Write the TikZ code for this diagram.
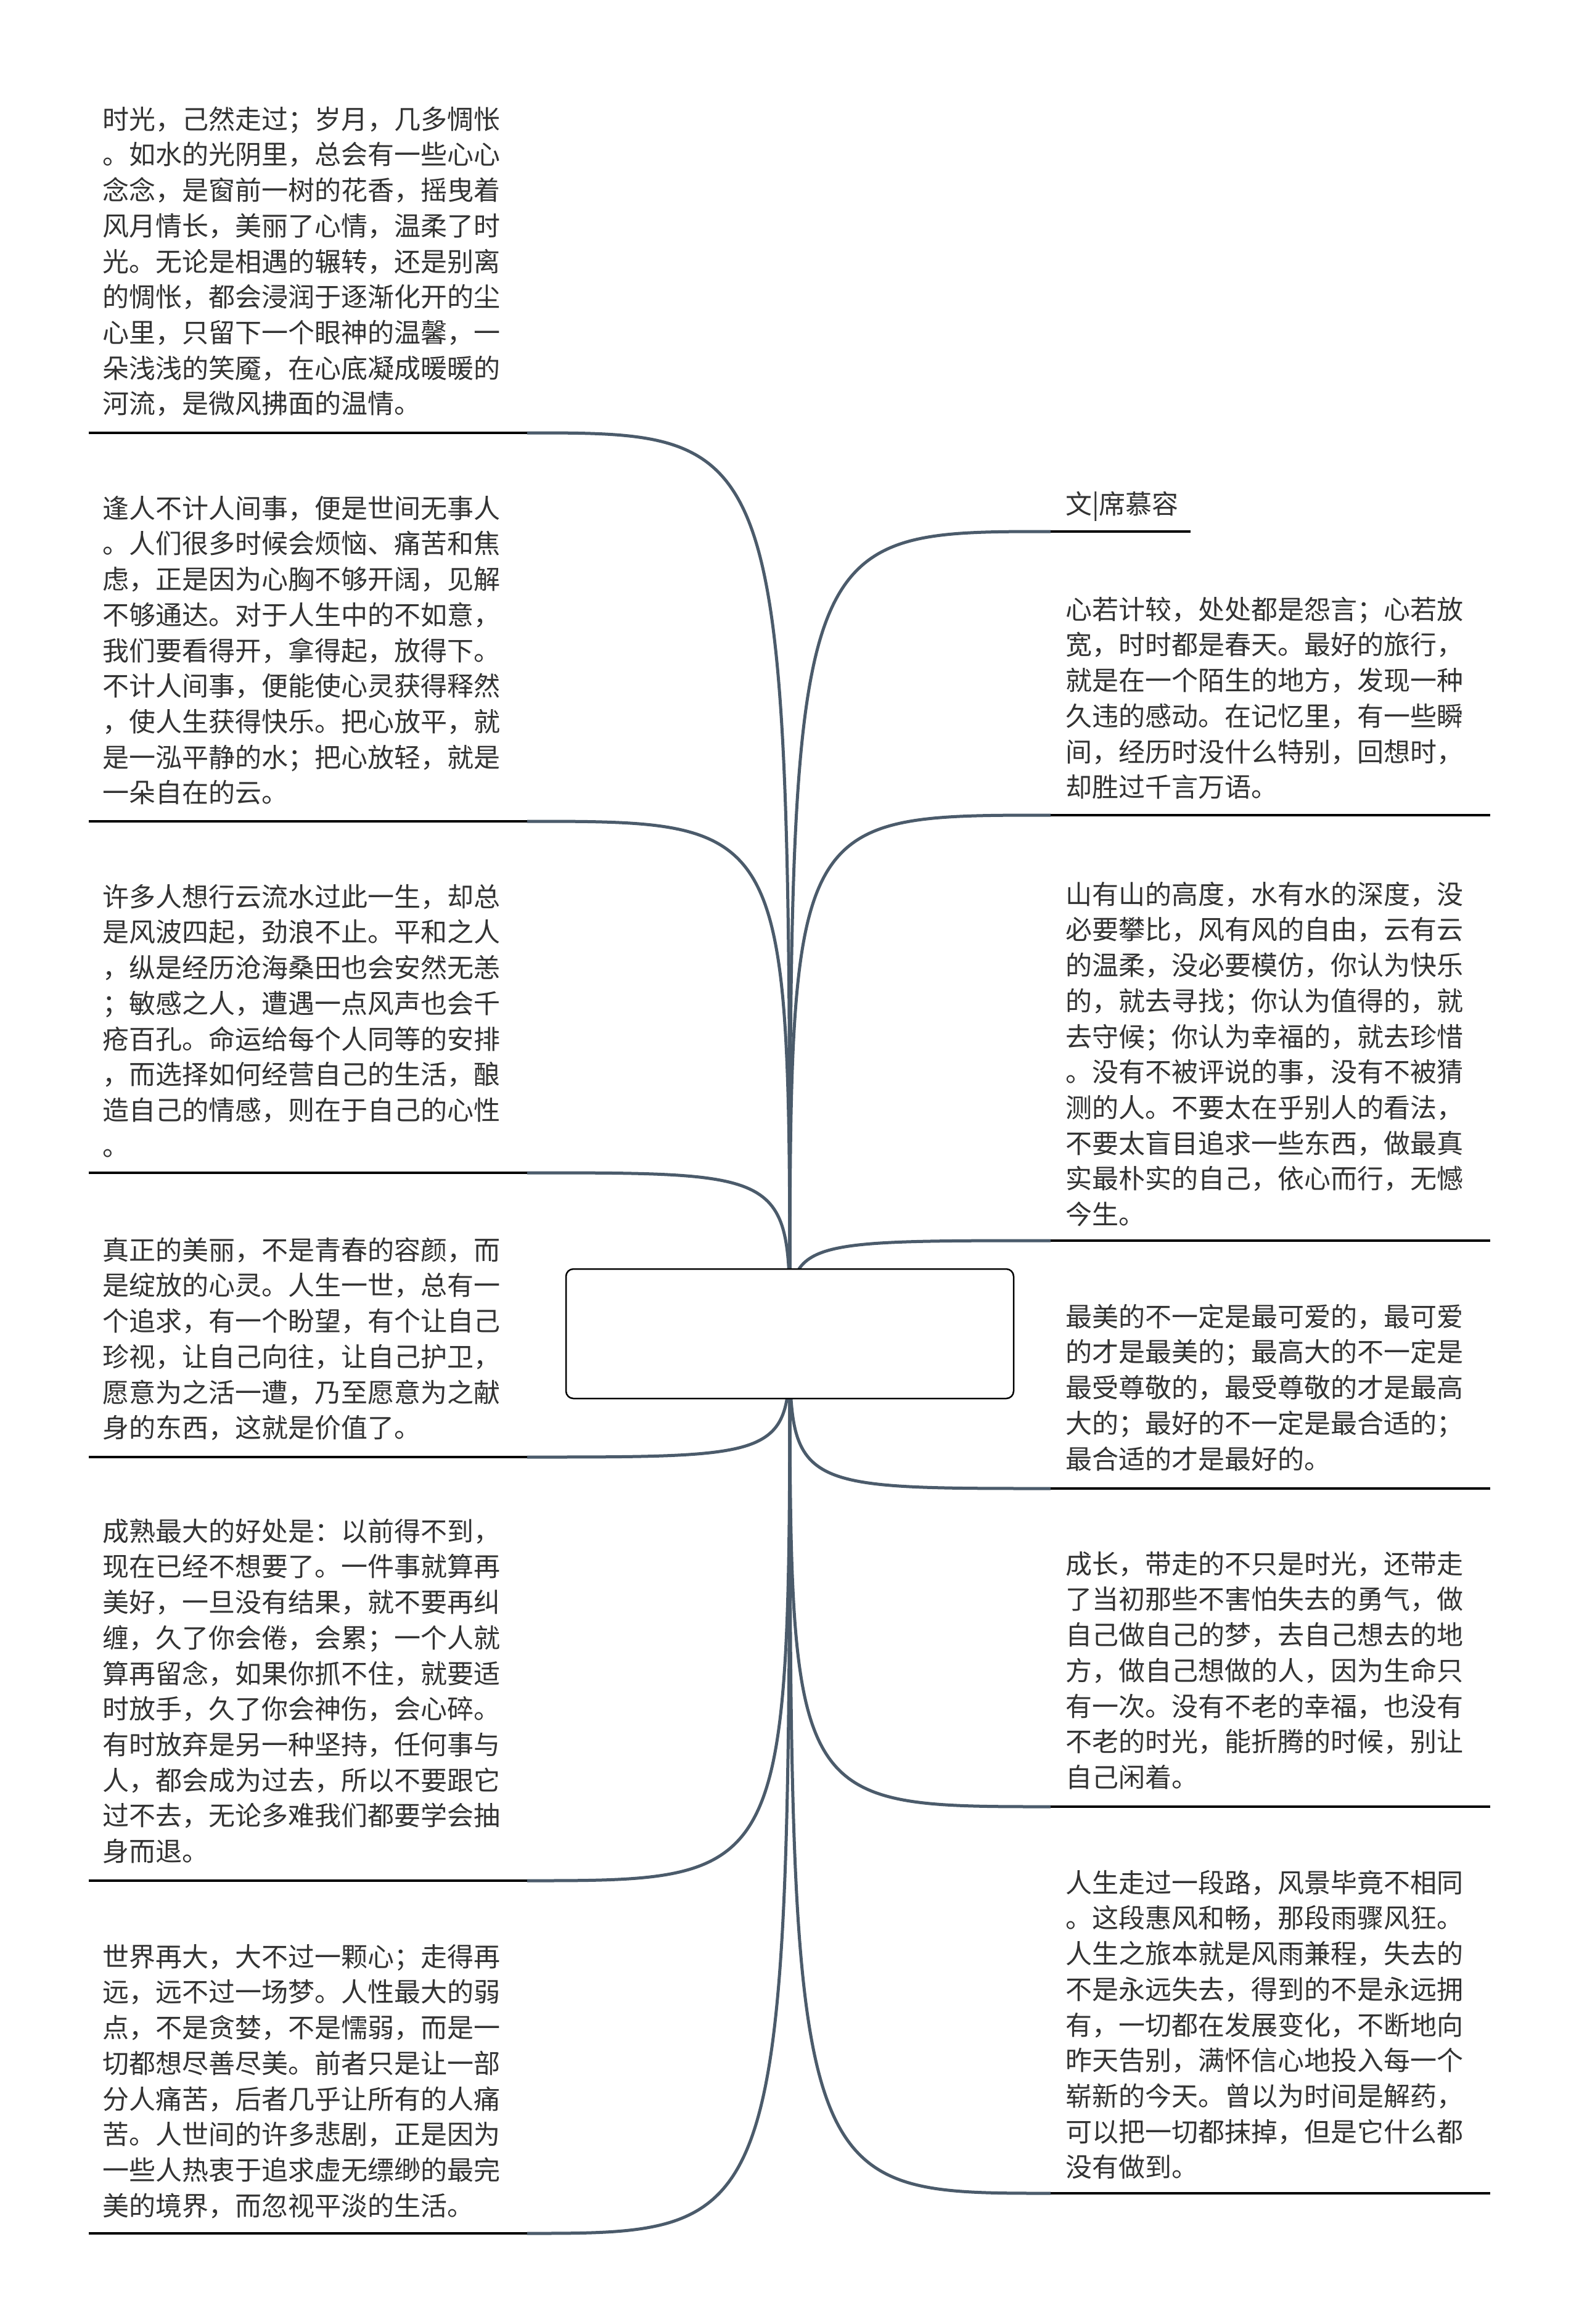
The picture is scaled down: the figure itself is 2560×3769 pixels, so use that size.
\documentclass[tikz,border=0pt]{standalone}
\usepackage{fontspec}
\setmainfont{Noto Sans CJK SC}
\definecolor{branchc}{HTML}{4B5B6B}
\definecolor{txtc}{HTML}{333333}
\newcommand{\firststrut}{\rule{0pt}{40pt}}
\begin{document}
\begin{tikzpicture}[x=1pt,y=-1pt,
  leaf/.style={anchor=north west, inner sep=0pt, align=left, text=txtc, font=\fontsize{43pt}{57.7pt}\selectfont},
  branch/.style={draw=branchc, line width=5pt},
  uline/.style={draw=black, line width=4.5pt},
  rootbox/.style={draw=black, line width=2.5pt, fill=white, rounded corners=12pt, minimum width=726pt, minimum height=210pt, inner sep=0pt}]
\useasboundingbox (0,0) rectangle (2560,3769);
\fill[white] (0,0) rectangle (2560,3769);
\coordinate (c) at (1281,2163);

% left leaves
\node[leaf] (l1) at (166,169) {\firststrut 时光，己然走过；岁月，几多惆怅\\。如水的光阴里，总会有一些心心\\念念，是窗前一树的花香，摇曳着\\风月情长，美丽了心情，温柔了时\\光。无论是相遇的辗转，还是别离\\的惆怅，都会浸润于逐渐化开的尘\\心里，只留下一个眼神的温馨，一\\朵浅浅的笑魇，在心底凝成暖暖的\\河流，是微风拂面的温情。};
\node[leaf] (l2) at (166,800) {\firststrut 逢人不计人间事，便是世间无事人\\。人们很多时候会烦恼、痛苦和焦\\虑，正是因为心胸不够开阔，见解\\不够通达。对于人生中的不如意，\\我们要看得开，拿得起，放得下。\\不计人间事，便能使心灵获得释然\\，使人生获得快乐。把心放平，就\\是一泓平静的水；把心放轻，就是\\一朵自在的云。};
\node[leaf] (l3) at (166,1430) {\firststrut 许多人想行云流水过此一生，却总\\是风波四起，劲浪不止。平和之人\\，纵是经历沧海桑田也会安然无恙\\；敏感之人，遭遇一点风声也会千\\疮百孔。命运给每个人同等的安排\\，而选择如何经营自己的生活，酿\\造自己的情感，则在于自己的心性\\。};
\node[leaf] (l4) at (166,2003) {\firststrut 真正的美丽，不是青春的容颜，而\\是绽放的心灵。人生一世，总有一\\个追求，有一个盼望，有个让自己\\珍视，让自己向往，让自己护卫，\\愿意为之活一遭，乃至愿意为之献\\身的东西，这就是价值了。};
\node[leaf] (l5) at (166,2459) {\firststrut 成熟最大的好处是：以前得不到，\\现在已经不想要了。一件事就算再\\美好，一旦没有结果，就不要再纠\\缠，久了你会倦，会累；一个人就\\算再留念，如果你抓不住，就要适\\时放手，久了你会神伤，会心碎。\\有时放弃是另一种坚持，任何事与\\人，都会成为过去，所以不要跟它\\过不去，无论多难我们都要学会抽\\身而退。};
\node[leaf] (l6) at (166,3149) {\firststrut 世界再大，大不过一颗心；走得再\\远，远不过一场梦。人性最大的弱\\点，不是贪婪，不是懦弱，而是一\\切都想尽善尽美。前者只是让一部\\分人痛苦，后者几乎让所有的人痛\\苦。人世间的许多悲剧，正是因为\\一些人热衷于追求虚无缥缈的最完\\美的境界，而忽视平淡的生活。};

% right leaves
\node[leaf] (r0) at (1728,793) {\firststrut 文|席慕容};
\node[leaf] (r1) at (1728,964) {\firststrut 心若计较，处处都是怨言；心若放\\宽，时时都是春天。最好的旅行，\\就是在一个陌生的地方，发现一种\\久违的感动。在记忆里，有一些瞬\\间，经历时没什么特别，回想时，\\却胜过千言万语。};
\node[leaf] (r2) at (1728,1426) {\firststrut 山有山的高度，水有水的深度，没\\必要攀比，风有风的自由，云有云\\的温柔，没必要模仿，你认为快乐\\的，就去寻找；你认为值得的，就\\去守候；你认为幸福的，就去珍惜\\。没有不被评说的事，没有不被猜\\测的人。不要太在乎别人的看法，\\不要太盲目追求一些东西，做最真\\实最朴实的自己，依心而行，无憾\\今生。};
\node[leaf] (r3) at (1728,2111) {\firststrut 最美的不一定是最可爱的，最可爱\\的才是最美的；最高大的不一定是\\最受尊敬的，最受尊敬的才是最高\\大的；最好的不一定是最合适的；\\最合适的才是最好的。};
\node[leaf] (r4) at (1728,2512) {\firststrut 成长，带走的不只是时光，还带走\\了当初那些不害怕失去的勇气，做\\自己做自己的梦，去自己想去的地\\方，做自己想做的人，因为生命只\\有一次。没有不老的幸福，也没有\\不老的时光，能折腾的时候，别让\\自己闲着。};
\node[leaf] (r5) at (1728,3029) {\firststrut 人生走过一段路，风景毕竟不相同\\。这段惠风和畅，那段雨骤风狂。\\人生之旅本就是风雨兼程，失去的\\不是永远失去，得到的不是永远拥\\有，一切都在发展变化，不断地向\\昨天告别，满怀信心地投入每一个\\崭新的今天。曾以为时间是解药，\\可以把一切都抹掉，但是它什么都\\没有做到。};

% underline end points
\coordinate (al1) at (855,702);  \coordinate (bl1) at (144,702);
\coordinate (al2) at (855,1332); \coordinate (bl2) at (144,1332);
\coordinate (al3) at (855,1902); \coordinate (bl3) at (144,1902);
\coordinate (al4) at (855,2363); \coordinate (bl4) at (144,2363);
\coordinate (al5) at (855,3050); \coordinate (bl5) at (144,3050);
\coordinate (al6) at (855,3622); \coordinate (bl6) at (144,3622);
\coordinate (ar0) at (1704,862);  \coordinate (br0) at (1931,862);
\coordinate (ar1) at (1704,1322); \coordinate (br1) at (2417,1322);
\coordinate (ar2) at (1704,2012); \coordinate (br2) at (2417,2012);
\coordinate (ar3) at (1704,2414); \coordinate (br3) at (2417,2414);
\coordinate (ar4) at (1704,2930); \coordinate (br4) at (2417,2930);
\coordinate (ar5) at (1704,3557); \coordinate (br5) at (2417,3557);

\foreach \k in {l1,l2,l3,l4,l5,l6,r0,r1,r2,r3,r4,r5}{
  \draw[branch] (c) .. controls (c |- a\k) .. (a\k);
  \draw[uline] (a\k) -- (b\k);
}

\node[rootbox] (root) at (c) {};
\end{tikzpicture}
\end{document}
